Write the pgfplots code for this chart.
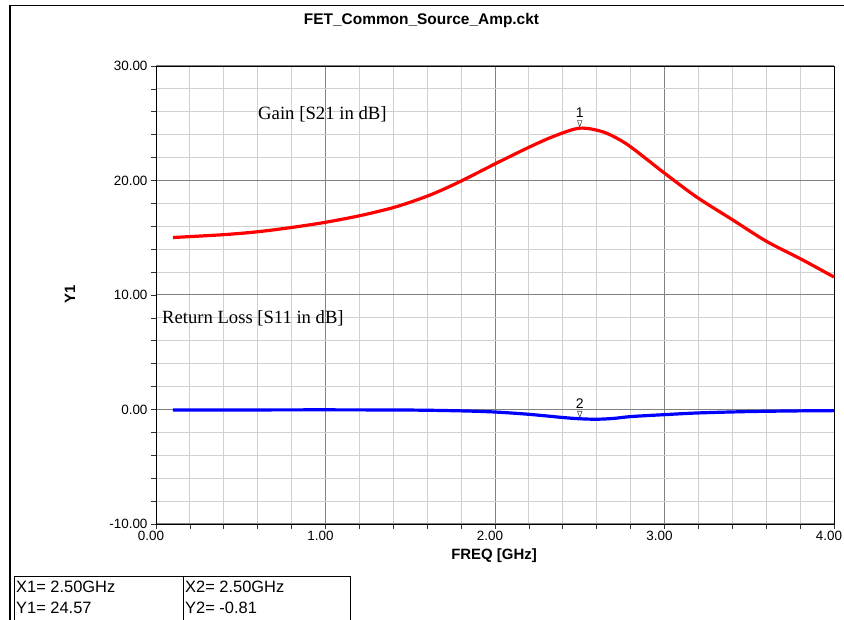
\documentclass[border=0pt]{standalone}
\usepackage{fontspec}
\setmainfont{Liberation Sans}
\newfontfamily\seriffont{Liberation Serif}
\usepackage{pgfplots}
\pgfplotsset{compat=1.18}
\definecolor{majgrid}{HTML}{808080}
\definecolor{mingrid}{HTML}{D0D0D0}

\begin{document}
\begin{tikzpicture}
\useasboundingbox (0,0) rectangle (844bp,620bp);
\draw[line width=1.3bp] (10bp,0) -- (10bp,614.7bp) -- (844bp,614.7bp);

\begin{axis}[
  at={(156bp,96bp)}, anchor=south west,
  scale only axis,
  width=678bp, height=458bp,
  xmin=0, xmax=4, ymin=-10, ymax=30,
  xtick={0,1,2,3,4}, ytick={-10,0,10,20,30},
  minor x tick num=4, minor y tick num=4,
  grid=both,
  major grid style={majgrid, line width=1bp},
  minor grid style={mingrid, line width=0.9bp},
  axis line style={black, line width=0.9bp},
  tick align=outside, tick pos=left,
  major tick length=5bp, minor tick length=5bp,
  every tick/.style={black!80, line width=0.7bp},
  /pgf/number format/assume math mode=true,
  /pgf/number format/.cd, fixed, fixed zerofill, precision=2, /pgfplots/.cd,
  ticklabel style={font=\fontsize{13.5}{16}\selectfont},
  yticklabel style={xshift=0bp},
  xticklabel style={yshift=1bp, xshift=-5bp},
  clip=false,
]
\addplot[red, line width=3.2bp, smooth] coordinates {
  (0.1,15.02) (0.4,15.27) (0.61,15.54) (0.82,15.94) (1.0,16.35) (1.21,16.95)
  (1.42,17.72) (1.62,18.75) (1.8,19.95) (2.0,21.45) (2.2,22.9) (2.35,23.88)
  (2.5,24.57) (2.64,24.23) (2.77,23.25) (2.9,21.8) (3.0,20.64) (3.19,18.55)
  (3.4,16.58) (3.6,14.7) (3.81,13.1) (4.0,11.57)
};
\addplot[blue, line width=3.2bp, smooth] coordinates {
  (0.1,-0.05) (0.5,-0.04) (1.0,-0.03) (1.5,-0.05) (1.8,-0.12) (2.0,-0.22)
  (2.2,-0.42) (2.4,-0.7) (2.5,-0.81) (2.6,-0.85) (2.7,-0.78) (2.8,-0.62)
  (3.0,-0.45) (3.2,-0.3) (3.5,-0.18) (3.8,-0.12) (4.0,-0.1)
};
\addplot[only marks, mark=triangle, mark size=4bp,
  mark options={rotate=180, yshift=-5.5bp, xscale=0.65, draw=black!70, fill=white, line width=0.6bp}]
  coordinates {(2.5,24.57)} node[anchor=south, yshift=10.5bp, inner sep=0pt, font=\fontsize{14}{16}\selectfont] {1};
\addplot[only marks, mark=triangle, mark size=4bp,
  mark options={rotate=180, yshift=-5.5bp, xscale=0.65, draw=black!70, fill=white, line width=0.6bp}]
  coordinates {(2.5,-0.81)} node[anchor=south, yshift=10.5bp, inner sep=0pt, font=\fontsize{14}{16}\selectfont] {2};
\end{axis}

\node[anchor=base, font=\fontsize{15.5}{18}\selectfont\bfseries] at (421.5bp,595bp) {FET\_Common\_Source\_Amp.ckt};
\node[anchor=base, font=\fontsize{15}{18}\selectfont\bfseries] at (494bp,60bp) {FREQ [GHz]};
\node[rotate=90, font=\fontsize{15}{18}\selectfont\bfseries] at (70bp,326bp) {Y1};
\node[anchor=base west, inner sep=0pt, font=\fontsize{18.8}{22}\selectfont\seriffont] at (258bp,500bp) {Gain [S21 in dB]};
\node[anchor=base west, inner sep=0pt, font=\fontsize{18.7}{22}\selectfont\seriffont] at (162bp,296bp) {Return Loss [S11 in dB]};

\draw[line width=0.9bp] (14bp,0) -- (14bp,44bp) -- (350bp,44bp) -- (350bp,0);
\draw[line width=0.9bp] (183bp,0) -- (183bp,44bp);
\node[anchor=base west, inner sep=0pt, font=\fontsize{16.5}{20}\selectfont] at (16bp,28bp) {X1= 2.50GHz};
\node[anchor=base west, inner sep=0pt, font=\fontsize{16.5}{20}\selectfont] at (16bp,7bp) {Y1= 24.57};
\node[anchor=base west, inner sep=0pt, font=\fontsize{16.5}{20}\selectfont] at (185bp,28bp) {X2= 2.50GHz};
\node[anchor=base west, inner sep=0pt, font=\fontsize{16.5}{20}\selectfont] at (185bp,7bp) {Y2= -0.81};
\end{tikzpicture}
\end{document}
